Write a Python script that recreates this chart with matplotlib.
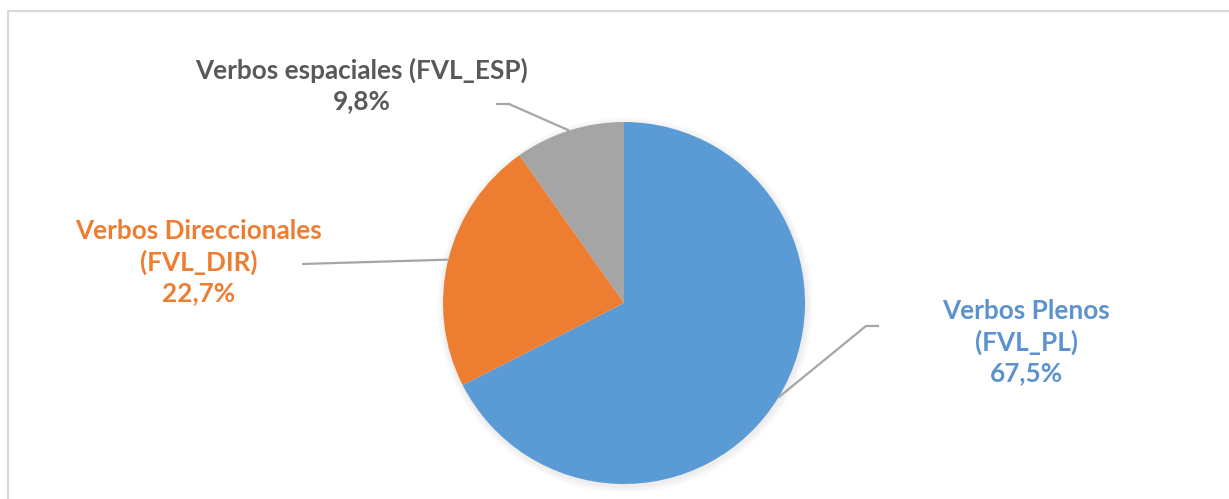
import matplotlib.pyplot as plt
import numpy as np
from matplotlib.patches import Rectangle

labels = ['Verbos Plenos\n(FVL_PL)', 'Verbos Direccionales\n(FVL_DIR)', 'Verbos espaciales (FVL_ESP)']
values = [67.5, 22.7, 9.8]
colors = ['#5B9BD5', '#ED7D31', '#A5A5A5']
text_colors = ['#5B92CF', '#ED7D31', '#595959']

W, H = 1229, 499
fig = plt.figure(figsize=(W / 100, H / 100), dpi=100)
ax = fig.add_axes([0, 0, 1, 1])

# chart frame (runs off the right and bottom edges)
fig.patches.append(Rectangle((8 / W, -0.1), 1.2, (H - 11) / H + 0.1, transform=fig.transFigure,
                             fill=False, edgecolor='#D9D9D9', linewidth=1.5))

cx, cy, r = 624, H - 303, 181

# soft shadow
for k in range(6):
    ax.add_patch(plt.Circle((cx + 1, cy - 2), r + 1 + k * 1.2, color='#000000', alpha=0.012, lw=0))

wedges, _ = ax.pie(values, colors=colors, startangle=90, counterclock=False,
                   center=(cx, cy), radius=r, wedgeprops=dict(linewidth=0), frame=True)
ax.set_xlim(0, W)
ax.set_ylim(0, H)
ax.set_aspect('equal')
ax.axis('off')

# label text positions (pixel, from top) and leader elbows
text_pos = [(1026, 342), (199, 262), (362, 85)]
elbows = [[(866, 326), (879, 326)], [(302, 264)], [(509, 104), (496, 104)]]
texts = [labels[0] + '\n67,5%', labels[1] + '\n22,7%', labels[2] + '\n9,8%']

for w, pos, elb, txt, tc in zip(wedges, text_pos, elbows, texts, text_colors):
    ang = np.deg2rad((w.theta1 + w.theta2) / 2)
    x0, y0 = cx + r * np.cos(ang), cy + r * np.sin(ang)
    xs = [x0] + [p[0] for p in elb]
    ys = [y0] + [H - p[1] for p in elb]
    ax.plot(xs, ys, color='#A6A6A6', lw=1.6, solid_capstyle='butt')
    ax.text(pos[0], H - pos[1], txt, ha='center', va='center', multialignment='center',
            fontsize=18.8, fontweight='bold', family='Lato', color=tc, linespacing=1.31)

fig.savefig('out.png', dpi=100)
